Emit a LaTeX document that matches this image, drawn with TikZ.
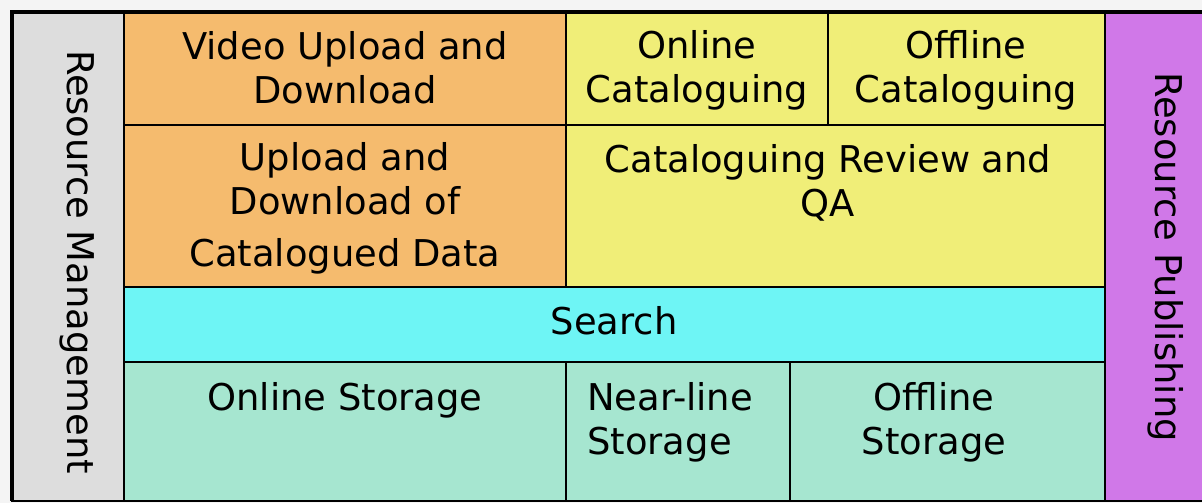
\documentclass[tikz,border=0pt]{standalone}
\usepackage{fontspec}
\setmainfont{DejaVu Sans}
\definecolor{bggray}{RGB}{244,244,244}
\definecolor{mgmtgray}{RGB}{221,221,221}
\definecolor{uporange}{RGB}{245,187,110}
\definecolor{catyellow}{RGB}{240,238,120}
\definecolor{searchcyan}{RGB}{110,245,245}
\definecolor{storeteal}{RGB}{166,230,208}
\definecolor{pubpurple}{RGB}{208,120,232}

\begin{document}
\begin{tikzpicture}[x=0.02cm,y=-0.02cm,
    cell/.style={draw=black,line width=1.1pt},
    lbl/.style={inner sep=0pt,align=center,font=\fontsize{21}{25}\selectfont}]
    \useasboundingbox (0,0) rectangle (1202,503);
    \fill[bggray] (0,0) rectangle (1202,503);
    % columns at the sides
    \filldraw[cell,fill=mgmtgray] (12,12) rectangle (124,501);
    \fill[pubpurple] (1105,12) rectangle (1202,501);
    % upload and cataloguing
    \filldraw[cell,fill=uporange] (124,12) rectangle (566,125);
    \filldraw[cell,fill=uporange] (124,125) rectangle (566,287);
    \filldraw[cell,fill=catyellow] (566,12) rectangle (828,125);
    \filldraw[cell,fill=catyellow] (828,12) rectangle (1105,125);
    \filldraw[cell,fill=catyellow] (566,125) rectangle (1105,287);
    % search and storage
    \filldraw[cell,fill=searchcyan] (124,287) rectangle (1105,362);
    \foreach \xa/\xb in {124/566,566/790,790/1105}
      \filldraw[cell,fill=storeteal] (\xa,362) rectangle (\xb,501);
    \draw[line width=1.1pt] (1105,501) -- (1202,501);
    \draw[line width=2.6pt] (12,501) -- (12,12) -- (1202,12);

    \node[lbl,rotate=-90,anchor=base] (mgmt) at (67,262) {Resource Management};
    \node[lbl,rotate=-90,anchor=base] (publ) at (1155,257) {Resource Publishing};
    \node[lbl,anchor=north] (vidup) at (345,31) {Video Upload and\\Download};
    \node[lbl,anchor=north] (oncat) at (697,30) {Online\\Cataloguing};
    \node[lbl,anchor=north] (offcat) at (966,30) {Offline\\Cataloguing};
    \node[lbl,anchor=north] (catup) at (345,142) {Upload and\\Download of\\[0.16cm]Catalogued Data};
    \node[lbl,anchor=north] (review) at (828,144) {Cataloguing Review and\\QA};
    \node[lbl,anchor=base] (search) at (614,334) {Search};
    \node[lbl,anchor=base] (onstore) at (345,410) {Online Storage};
    \node[lbl,align=left,anchor=north west] (nearstore) at (587,382) {Near-line\\Storage};
    \node[lbl,anchor=north] (offstore) at (934,382) {Offline\\Storage};
\end{tikzpicture}
\end{document}
